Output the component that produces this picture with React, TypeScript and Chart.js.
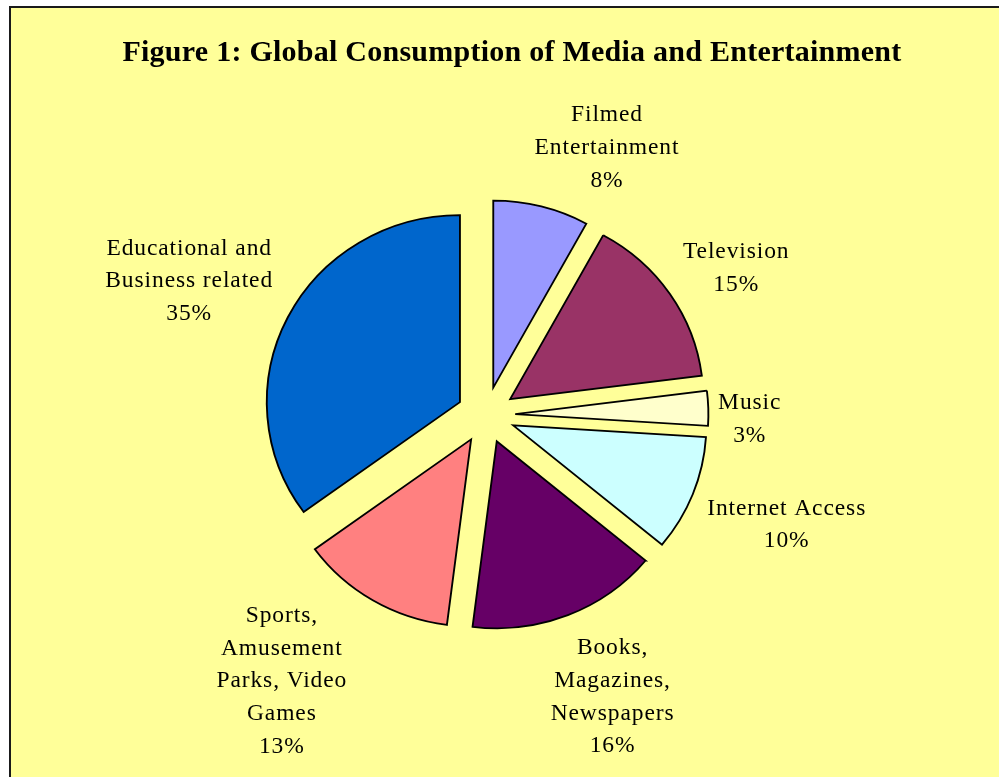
import React, { useEffect, useRef } from "react";
import { Chart, registerables } from "chart.js";

Chart.register(...registerables);

// ---- data ----
const TITLE = "Figure 1: Global Consumption of Media and Entertainment";
const categories: string[][] = [
  ["Filmed", "Entertainment"],
  ["Television"],
  ["Music"],
  ["Internet Access"],
  ["Books,", "Magazines,", "Newspapers"],
  ["Sports,", "Amusement", "Parks, Video", "Games"],
  ["Educational and", "Business related"],
];
const shares: number[] = [8, 15, 3, 10, 16, 13, 35];
const sliceColors: string[] = [
  "#9999FF",
  "#993366",
  "#FFFFCC",
  "#CCFFFF",
  "#660066",
  "#FF8080",
  "#0066CC",
];

// ---- label placement tweaks (pixels), per slice ----
const LABEL_NUDGE: [number, number][] = [
  [41, 14],
  [0, 7],
  [-17, 13],
  [-5, 9],
  [12, -3],
  [-44, -12],
  [0, -2],
];

const explodePlugin = {
  id: "explodeSlices",
  beforeDatasetDraw(chart: any, args: any, opts: any) {
    const ctx = chart.ctx;
    const arcs = args.meta.data;
    arcs.forEach((arc: any) => {
      const { x, y, startAngle, endAngle } = arc.getProps(
        ["x", "y", "startAngle", "endAngle"],
        true
      );
      const mid = (startAngle + endAngle) / 2;
      ctx.save();
      ctx.translate(x, y);
      ctx.scale(opts.stretchX, 1);
      ctx.translate(-x, -y);
      ctx.translate(Math.cos(mid) * opts.distance, Math.sin(mid) * opts.distance);
      arc.draw(ctx);
      ctx.restore();
    });
    return false;
  },
};

const labelPlugin = {
  id: "outsideLabels",
  afterDatasetsDraw(chart: any, _args: any, opts: any) {
    const ctx = chart.ctx;
    const meta = chart.getDatasetMeta(0);
    const data = chart.data.datasets[0].data as number[];
    const total = data.reduce((a, b) => a + b, 0);
    ctx.save();
    // title
    ctx.fillStyle = "#000";
    ctx.font = 'bold 30px "Liberation Serif", "Times New Roman", serif';
    (ctx as any).letterSpacing = "0.25px";
    ctx.textAlign = "center";
    ctx.textBaseline = "alphabetic";
    ctx.fillText(TITLE, opts.titleX, opts.titleY);

    ctx.font = '23.5px "Liberation Serif", "Times New Roman", serif';
    (ctx as any).letterSpacing = "0.9px";
    ctx.textBaseline = "middle";
    const lh = opts.lineHeight;
    meta.data.forEach((arc: any, i: number) => {
      const { x, y, startAngle, endAngle, outerRadius } = arc.getProps(
        ["x", "y", "startAngle", "endAngle", "outerRadius"],
        true
      );
      const mid = (startAngle + endAngle) / 2;
      const lines = [
        ...(chart.data.labels[i] as string[]),
        Math.round((data[i] / total) * 100) + "%",
      ];
      const w = Math.max(...lines.map((l) => ctx.measureText(l).width));
      const h = lines.length * lh;
      const D = outerRadius + opts.distance + opts.gap;
      const cx =
        x + Math.cos(mid) * D * opts.stretchX + (Math.cos(mid) * w) / 2 + LABEL_NUDGE[i][0];
      const cy = y + Math.sin(mid) * D + (Math.sin(mid) * h) / 2 + LABEL_NUDGE[i][1];
      lines.forEach((l, k) => {
        ctx.fillText(l, cx, cy - h / 2 + lh * (k + 0.5));
      });
    });
    ctx.restore();
  },
};

export default function App() {
  const ref = useRef<HTMLCanvasElement>(null);
  useEffect(() => {
    if (!ref.current) return;
    const chart = new Chart(ref.current, {
      type: "pie",
      data: {
        labels: categories as any,
        datasets: [
          {
            data: shares,
            backgroundColor: sliceColors,
            borderColor: "#000000",
            borderWidth: 1.8,
            borderJoinStyle: "miter",
            radius: 187,
          } as any,
        ],
      },
      options: {
        responsive: false,
        animation: false,
        layout: { padding: { left: 100, right: 127, top: 153, bottom: 100 } },
        events: [],
        plugins: {
          legend: { display: false },
          tooltip: { enabled: false },
          title: { display: false },
          explodeSlices: { distance: 28.3, stretchX: 1.033 },
          outsideLabels: {
            distance: 28.3,
            gap: 26,
            stretchX: 1.033,
            lineHeight: 32.7,
            titleX: 512,
            titleY: 61,
          },
        } as any,
      },
      plugins: [explodePlugin, labelPlugin],
    });
    return () => chart.destroy();
  }, []);

  return (
    <>
      <div
        style={{
          position: "fixed",
          left: 9,
          top: 6,
          width: 1100,
          height: 900,
          background: "#FFFF99",
          borderLeft: "2px solid #1a1a1a",
          borderTop: "2px solid #1a1a1a",
        }}
      />
      <canvas
        ref={ref}
        width={999}
        height={777}
        style={{ position: "fixed", left: 0, top: 0, width: 999, height: 777 }}
      />
    </>
  );
}
